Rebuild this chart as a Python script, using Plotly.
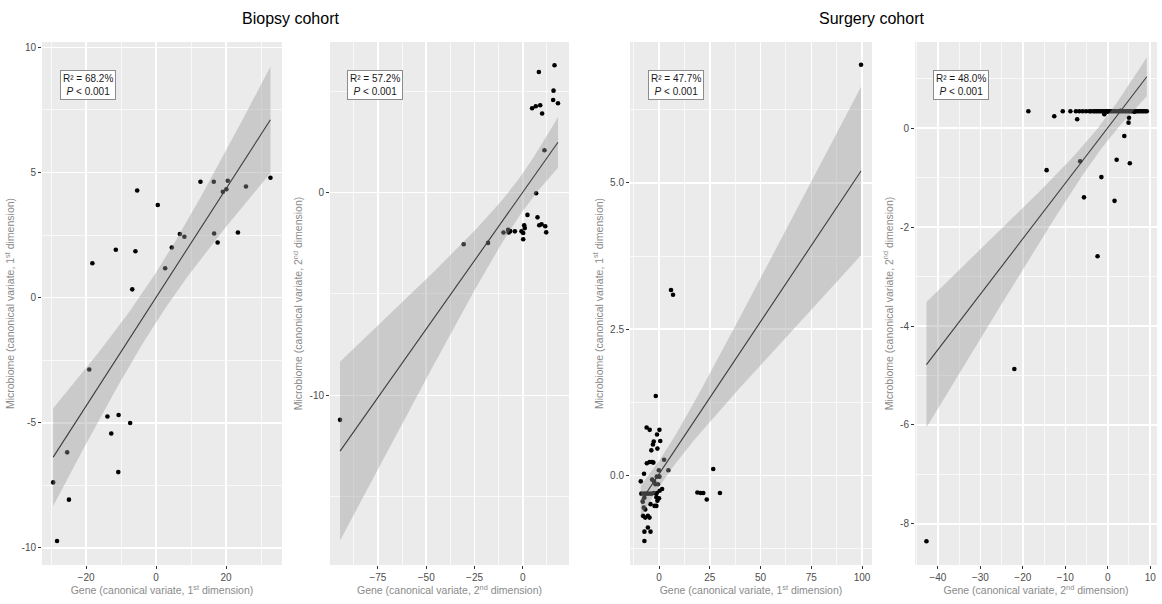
import numpy as np
import plotly.graph_objects as go

# ---------------- data ----------------
# Biopsy cohort, 1st dimension
gene_b1 = [-18.2, -11.5, -5.9, -6.8, -5.4, 0.5, 2.6, 4.5, 6.8, 8.1, 12.7, 16.5, 16.6, 17.6, 19.1,
           20.1, 20.5, 23.4, 25.7, 32.7, -19.1, -13.9, -10.7, -7.4, -12.8, -10.8, -25.4, -29.4, -24.9, -28.3]
micro_b1 = [1.37, 1.91, 1.85, 0.33, 4.28, 3.70, 1.17, 2.00, 2.54, 2.43, 4.63, 4.63, 2.56, 2.20, 4.23,
            4.33, 4.67, 2.60, 4.44, 4.79, -2.87, -4.75, -4.69, -5.01, -5.43, -6.97, -6.18, -7.38, -8.07, -9.72]

# Biopsy cohort, 2nd dimension
gene_b2 = [16.4, 8.3, 15.9, 15.7, 18.2, 4.8, 6.7, 9.0, 10.0, 11.2, 6.9, 2.4, 7.6, 8.5, 9.7, 11.6, 12.1,
           0.7, -0.7, 0.2, 0.2, -4.1, -7.6, -7.3, -10.0, -18.0, -30.6, -94.6, -6.5, 1.0]
micro_b2 = [6.28, 5.95, 5.03, 4.57, 4.41, 4.16, 4.26, 4.31, 3.90, 2.09, -0.03, -1.10, -1.22, -1.61, -1.56,
            -1.66, -1.96, -1.61, -1.91, -1.99, -2.30, -1.91, -1.84, -1.97, -1.97, -2.48, -2.55, -11.21,
            -1.90, -1.75]

# Surgery cohort, 1st dimension
gene_s1 = [99.5, 5.9, 6.9, -1.6, 26.7, 4.6, 2.5, 18.9, 20.5, 21.8, 23.5, 30.0,
           -6.1, -4.6, 0.2, -1.0, 0.6, -2.6, -3.0, -0.8, -3.8,
           -6.0, -4.6, -3.4, -2.8, -0.1, -7.4, -9.0, -3.4, -2.5, -1.1, 0.2, -1.8, -0.5,
           -8.7, -7.4, -6.3, -5.1, -3.8, -2.5, -1.1, 0.3, 1.5,
           -7.2, -8.0, -1.3, 0.0, -0.8, -4.2, -2.2, -1.3,
           -7.9, -6.8, -5.5, -4.7, -5.5, -4.2, -7.2, -7.2, -7.5, -6.8]
micro_s1 = [7.02, 3.17, 3.09, 1.36, 0.11, 0.09, 0.27, -0.29, -0.30, -0.30, -0.41, -0.30,
            0.82, 0.78, 0.78, 0.70, 0.59, 0.58, 0.53, 0.46, 0.43,
            0.21, 0.23, 0.23, 0.22, 0.09, 0.03, -0.10, -0.07, -0.10, -0.02, -0.02, -0.15, -0.15,
            -0.31, -0.31, -0.31, -0.31, -0.31, -0.30, -0.30, -0.26, -0.23,
            -0.38, -0.45, -0.37, -0.39, -0.43, -0.49, -0.52, -0.52,
            -0.69, -0.72, -0.69, -0.72, -0.89, -0.96, -0.96, -1.12, -0.55, -0.58]

# Surgery cohort, 2nd dimension (many patients overlap on the top row)
gene_s2 = [-18.7, -10.6, -8.8, -7.5, -6.7, -5.9, -5.1, -4.3, -3.4, -2.6, -1.8, -1.1, -0.3, 0.5, 1.3,
           2.1, 2.9, 3.7, 4.5, 5.2, 6.0, 6.8, 7.6, 8.4, 9.2,
           -4.0, -3.0, -2.2, -1.4, -0.6, 0.1, 0.9, 1.7, 2.5, 3.3, 4.1, 4.9, 5.6, 6.4, 7.2, 8.0, 8.8,
           -0.1, 3.0, 6.3,
           -12.6, -7.2, -0.8, 5.0, 4.9, 3.9, 2.1, 5.2, -6.5, -14.4, -1.5, -5.6, 1.6, -2.4, -22.0, -42.7]
micro_s2 = [0.34] * 25 + [0.34] * 17 + [0.33, 0.35, 0.33] + \
           [0.24, 0.18, 0.28, 0.21, 0.11, -0.16, -0.64, -0.71, -0.67, -0.85, -0.99,
            -1.40, -1.47, -2.59, -4.87, -8.35]

stat_labels = ["R² = 68.2%", "R² = 57.2%", "R² = 47.7%", "R² = 48.0%"]
p_labels = ["<i>P</i> &lt; 0.001"] * 4
cohort_titles = ["Biopsy cohort", "Surgery cohort"]
x_titles = ["Gene (canonical variate, 1<sup>st</sup> dimension)",
            "Gene (canonical variate, 2<sup>nd</sup> dimension)",
            "Gene (canonical variate, 1<sup>st</sup> dimension)",
            "Gene (canonical variate, 2<sup>nd</sup> dimension)"]
y_titles = ["Microbiome (canonical variate, 1<sup>st</sup> dimension)",
            "Microbiome (canonical variate, 2<sup>nd</sup> dimension)",
            "Microbiome (canonical variate, 1<sup>st</sup> dimension)",
            "Microbiome (canonical variate, 2<sup>nd</sup> dimension)"]

x_ticks = [[-20, 0, 20], [-75, -50, -25, 0], [0, 25, 50, 75, 100], [-40, -30, -20, -10, 0, 10]]
y_ticks = [[-10, -5, 0, 5, 10], [-10, 0], [0.0, 2.5, 5.0], [-8, -6, -4, -2, 0]]
y_ticktext = [["-10", "-5", "0", "5", "10"], ["-10", "0"], ["0.0", "2.5", "5.0"],
              ["-8", "-6", "-4", "-2", "0"]]

# ---------------- layout geometry ----------------
W, H = 1162, 604
xs_data = [gene_b1, gene_b2, gene_s1, gene_s2]
ys_data = [micro_b1, micro_b2, micro_s1, micro_s2]
x_px = [(42, 282), (330, 569), (630, 872), (915, 1157)]
y_px = (42, 565)
x_ranges = [[-32.6, 36.0], [-99.8, 23.9], [-14.3, 104.9], [-45.4, 11.6]]
y_ranges = [[-10.68, 10.21], [-18.37, 7.43], [-1.53, 7.41], [-8.83, 1.74]]
x_minor = [[-30, -10, 10, 30], [-87.5, -62.5, -37.5, -12.5, 12.5], [-12.5, 12.5, 37.5, 62.5, 87.5],
           [-45, -35, -25, -15, -5, 5]]
y_minor = [[-7.5, -2.5, 2.5, 7.5], [-15, -5, 5], [-1.25, 1.25, 3.75, 6.25], [-7, -5, -3, -1, 1]]
box_px = [(88, 84.5), (374.5, 84.5), (675.5, 84.5), (960.5, 84.5)]


def t_quantile(df, z=1.959964):
    return (z + (z**3 + z) / (4 * df) + (5 * z**5 + 16 * z**3 + 3 * z) / (96 * df**2)
            + (3 * z**7 + 19 * z**5 + 17 * z**3 - 15 * z) / (384 * df**3))


FONT = "Liberation Sans, Arial, sans-serif"
fig = go.Figure()
layout = dict(
    width=W, height=H, margin=dict(l=0, r=0, t=0, b=0),
    paper_bgcolor="white", plot_bgcolor="#EBEBEB", showlegend=False,
    font=dict(family=FONT, color="#333333"),
)
annotations = []

for i in range(4):
    k = "" if i == 0 else str(i + 1)
    xref, yref = "x" + k, "y" + k
    x = np.array(xs_data[i], dtype=float)
    y = np.array(ys_data[i], dtype=float)
    n = len(x)
    b, a = np.polyfit(x, y, 1)
    xg = np.linspace(x.min(), x.max(), 80)
    fit = a + b * xg
    resid = y - (a + b * x)
    s = np.sqrt((resid ** 2).sum() / (n - 2))
    sxx = ((x - x.mean()) ** 2).sum()
    se = s * np.sqrt(1.0 / n + (xg - x.mean()) ** 2 / sxx)
    t = t_quantile(n - 2)
    lo, hi = fit - t * se, fit + t * se

    fig.add_trace(go.Scatter(x=x, y=y, mode="markers", xaxis=xref, yaxis=yref,
                             marker=dict(color="black", size=4.6), hoverinfo="skip"))
    fig.add_trace(go.Scatter(x=np.concatenate([xg, xg[::-1]]), y=np.concatenate([hi, lo[::-1]]),
                             mode="lines", fill="toself", fillcolor="rgba(153,153,153,0.4)",
                             line=dict(width=0), xaxis=xref, yaxis=yref, hoverinfo="skip"))
    fig.add_trace(go.Scatter(x=xg, y=fit, mode="lines", line=dict(color="#3d3d3d", width=1.1),
                             xaxis=xref, yaxis=yref, hoverinfo="skip"))

    axis_common = dict(
        showgrid=True, gridcolor="white", gridwidth=1.5, zeroline=False, showline=False,
        ticks="outside", ticklen=3, tickwidth=1, tickcolor="#333333",
        tickfont=dict(family=FONT, size=10, color="#4d4d4d"),
    )
    layout["xaxis" + k] = dict(
        axis_common, domain=[x_px[i][0] / W, x_px[i][1] / W], range=x_ranges[i],
        anchor=yref, tickmode="array", tickvals=x_ticks[i],
        minor=dict(tickmode="array", tickvals=x_minor[i], showgrid=True, gridcolor="white",
                   gridwidth=0.7, ticklen=0),
        title=dict(text=x_titles[i], font=dict(family=FONT, size=10.5, color="#8a8a8a"), standoff=4),
    )
    layout["yaxis" + k] = dict(
        axis_common, domain=[1 - y_px[1] / H, 1 - y_px[0] / H], range=y_ranges[i],
        anchor=xref, tickmode="array", tickvals=y_ticks[i], ticktext=y_ticktext[i],
        minor=dict(tickmode="array", tickvals=y_minor[i], showgrid=True, gridcolor="white",
                   gridwidth=0.7, ticklen=0),
        title=dict(text=y_titles[i], font=dict(family=FONT, size=10.5, color="#8a8a8a"), standoff=4),
    )
    annotations.append(dict(
        xref="paper", yref="paper", x=box_px[i][0] / W, y=1 - box_px[i][1] / H,
        xanchor="center", yanchor="middle", showarrow=False,
        text=stat_labels[i] + "<br>" + p_labels[i],
        font=dict(family=FONT, size=10, color="#1a1a1a"),
        bgcolor="white", bordercolor="#8c8c8c", borderwidth=1, borderpad=2,
    ))

for j, title in enumerate(cohort_titles):
    annotations.append(dict(
        xref="paper", yref="paper", x=(290.5 if j == 0 else 871.5) / W, y=1 - 18 / H,
        xanchor="center", yanchor="middle", showarrow=False, text=title,
        font=dict(family=FONT, size=16, color="black"),
    ))

layout["annotations"] = annotations
fig.update_layout(**layout)
fig.write_html("out.html", config={"displayModeBar": False, "staticPlot": True},
               post_script="document.body.style.margin='0px';")
